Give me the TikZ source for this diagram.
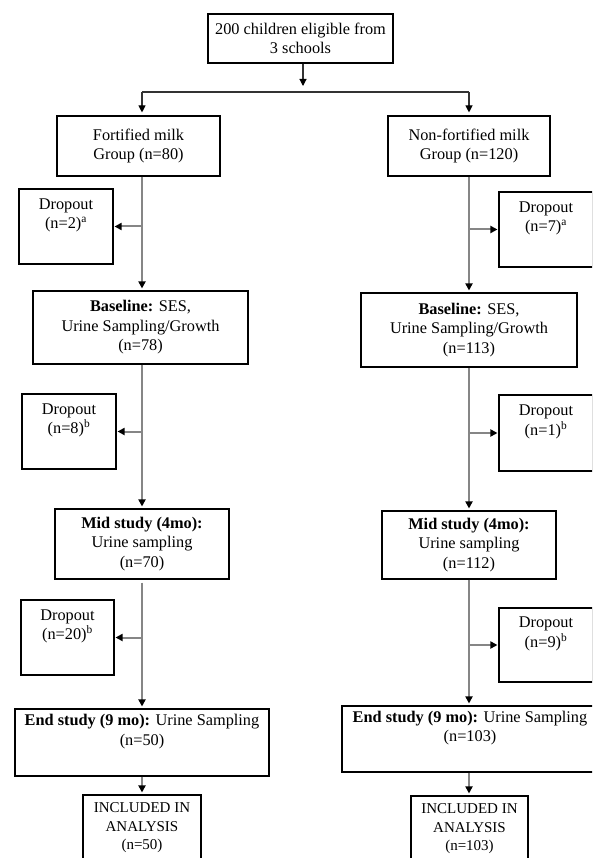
\documentclass[tikz,border=0pt]{standalone}
\usepackage{fontspec}
\setmainfont{Liberation Serif}
\usetikzlibrary{arrows.meta}
\begin{document}
\begin{tikzpicture}[x=1pt,y=-1pt,
  box/.style={draw=black,line width=1.1pt,inner sep=0pt,align=center,
    font=\fontsize{16.3}{19.5}\selectfont},
  incbox/.style={box,font=\fontsize{15}{18.5}\selectfont},
  tip/.style={-{Triangle[width=7pt,length=7pt,color=black]}},
  gline/.style={tip,draw=gray!95,line width=2pt},
  bline/.style={tip,draw=black!80,line width=1.1pt}]
\useasboundingbox (0,0) rectangle (592,858);
\clip (0,0) rectangle (592,858);
% boxes
\node[box,minimum width=185pt,minimum height=49pt] (top) at (300.5,38.5) {200 children eligible from\\3 schools};
\node[box,minimum width=163pt,minimum height=60pt] (fort) at (138.5,146) {Fortified milk\\Group (n=80)};
\node[box,minimum width=162pt,minimum height=60pt] (nonf) at (469,146) {Non-fortified milk\\Group (n=120)};
\node[box,minimum width=94pt,minimum height=75pt] (dL1) at (66,226.5) {Dropout\\(n=2)\textsuperscript{a}\\\strut};
\node[box,minimum width=94pt,minimum height=75pt] (dR1) at (546,229.5) {Dropout\\(n=7)\textsuperscript{a}\\\strut};
\node[box,minimum width=215pt,minimum height=73pt] (baseL) at (140.5,327.5) {\textbf{Baseline:} SES,\\Urine Sampling/Growth\\(n=78)};
\node[box,minimum width=216pt,minimum height=74pt] (baseR) at (469,330) {\textbf{Baseline:} SES,\\Urine Sampling/Growth\\(n=113)};
\node[box,minimum width=94pt,minimum height=75pt] (dL2) at (69,431.5) {Dropout\\(n=8)\textsuperscript{b}\\\strut};
\node[box,minimum width=94pt,minimum height=76pt] (dR2) at (546,433) {Dropout\\(n=1)\textsuperscript{b}\\\strut};
\node[box,minimum width=174pt,minimum height=70pt] (midL) at (142,544) {\textbf{Mid study (4mo):}\\Urine sampling\\(n=70)};
\node[box,minimum width=174pt,minimum height=68pt] (midR) at (469,545) {\textbf{Mid study (4mo):}\\Urine sampling\\(n=112)};
\node[box,minimum width=93pt,minimum height=75pt] (dL3) at (67.5,637.5) {Dropout\\(n=20)\textsuperscript{b}\\\strut};
\node[box,minimum width=94pt,minimum height=74pt] (dR3) at (546,645) {Dropout\\(n=9)\textsuperscript{b}\\\strut};
\node[box,minimum width=254pt,minimum height=67pt] (endL) at (142,742.5) {\textbf{End study (9 mo):} Urine Sampling\\(n=50)\\\strut};
\node[box,minimum width=256pt,minimum height=66pt] (endR) at (470,739) {\textbf{End study (9 mo):} Urine Sampling\\(n=103)\\\strut};
\node[incbox,minimum width=118pt,minimum height=66pt] (incL) at (142,828) {INCLUDED IN\\ANALYSIS\\(n=50)};
\node[incbox,minimum width=117pt,minimum height=66pt] (incR) at (469.5,829) {INCLUDED IN\\ANALYSIS\\(n=103)};
% split
\coordinate (cL) at (142,92);
\coordinate (cR) at (469,92);
\coordinate (cT) at (303,92);
\draw[black!80,line width=1.2pt] (cL) -- (cR);
\draw[bline,shorten >=6pt] (top.south -| cT) -- (cT);
\draw[bline,shorten >=3pt] (cL) -- (fort.north -| cL);
\draw[bline,shorten >=3pt] (cR) -- (nonf.north -| cR);
% left column
\draw[gline,shorten >=2pt] (fort.south -| cL) -- (baseL.north -| cL);
\draw[gline,shorten >=2pt] (baseL.south -| cL) -- (midL.north -| cL);
\draw[gline,shorten >=2pt,shorten <=3pt] (midL.south -| cL) -- (endL.north -| cL);
\draw[gline,shorten >=2pt] (endL.south -| cL) -- (incL.north -| cL);
\draw[gline,shorten >=1pt] (dL1.east -| cL) -- (dL1.east);
\draw[gline,shorten >=1pt] (dL2.east -| cL) -- (dL2.east);
\draw[gline,shorten >=1pt] (dL3.east -| cL) -- (dL3.east);
% right column
\draw[gline,shorten >=2pt] (nonf.south -| cR) -- (baseR.north -| cR);
\draw[gline,shorten >=2pt] (baseR.south -| cR) -- (midR.north -| cR);
\draw[gline,shorten >=2pt] (midR.south -| cR) -- (endR.north -| cR);
\draw[gline,shorten >=2pt] (endR.south -| cR) -- (incR.north -| cR);
\draw[gline,shorten >=1pt] (dR1.west -| cR) -- (dR1.west);
\draw[gline,shorten >=1pt] (dR2.west -| cR) -- (dR2.west);
\draw[gline,shorten >=1pt] (dR3.west -| cR) -- (dR3.west);
\end{tikzpicture}
\end{document}
